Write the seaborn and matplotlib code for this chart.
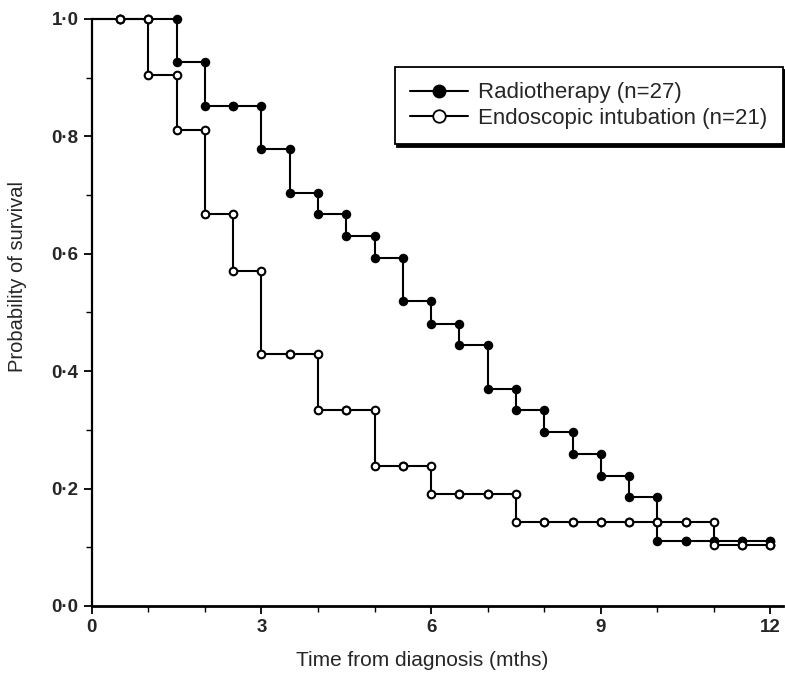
import numpy as np
import pandas as pd
import matplotlib
matplotlib.use("Agg")
import matplotlib.pyplot as plt
from matplotlib.lines import Line2D
from matplotlib.ticker import MultipleLocator, FuncFormatter
import seaborn as sns

# Tiempos (meses) cada medio mes
tiempos = [0.0, 0.5, 1.0, 1.5, 2.0, 2.5, 3.0, 3.5, 4.0, 4.5, 5.0, 5.5, 6.0,
           6.5, 7.0, 7.5, 8.0, 8.5, 9.0, 9.5, 10.0, 10.5, 11.0, 11.5, 12.0]

# Supervivencia (valor despues de cada tiempo)
radioterapia = [1.0, 1.0, 1.0, 0.926, 0.852, 0.852, 0.778, 0.704, 0.667, 0.630,
                0.593, 0.519, 0.481, 0.444, 0.370, 0.333, 0.296, 0.259, 0.222,
                0.185, 0.111, 0.111, 0.111, 0.111, 0.111]
endoscopia = [1.0, 1.0, 0.905, 0.810, 0.667, 0.571, 0.429, 0.429, 0.333, 0.333,
              0.238, 0.238, 0.190, 0.190, 0.190, 0.143, 0.143, 0.143, 0.143,
              0.143, 0.143, 0.143, 0.103, 0.103, 0.103]

etiquetas = ["Radiotherapy (n=27)", "Endoscopic intubation (n=21)"]
ticks_x = [0, 3, 6, 9, 12]
ticks_y = [0.0, 0.2, 0.4, 0.6, 0.8, 1.0]


def puntos_esquina(t, s):
    """Puntos en ambos extremos de cada salto (antes y despues)"""
    xs, ys = [], []
    for i in range(1, len(t)):
        xs += [t[i], t[i]]
        ys += [s[i - 1], s[i]]
    return pd.DataFrame({"t": xs, "s": ys})


sns.set_theme(style="white")
plt.rcParams["font.family"] = ["Liberation Sans", "DejaVu Sans"]

fig = plt.figure(figsize=(7.85, 6.74), dpi=100)
ax = fig.add_axes([0.117, 0.101, 0.881, 0.871])

df = pd.DataFrame({
    "t": tiempos * 2,
    "s": radioterapia + endoscopia,
    "grupo": [etiquetas[0]] * len(tiempos) + [etiquetas[1]] * len(tiempos),
})
sns.lineplot(data=df, x="t", y="s", hue="grupo", estimator=None,
             palette={etiquetas[0]: "black", etiquetas[1]: "black"},
             drawstyle="steps-post", linewidth=1.5, legend=False, ax=ax,
             clip_on=False)

pr = puntos_esquina(tiempos, radioterapia)
pe = puntos_esquina(tiempos, endoscopia)
sns.scatterplot(data=pr, x="t", y="s", color="black", edgecolor="black",
                s=34, linewidth=1.0, zorder=3, clip_on=False, ax=ax)
sns.scatterplot(data=pe, x="t", y="s", color="white", edgecolor="black",
                s=30, linewidth=1.5, zorder=4, clip_on=False, ax=ax)

ax.set_xlim(0, 12.23)
ax.set_ylim(0, 1.0)
sns.despine(ax=ax)
for lado in ["left", "bottom"]:
    ax.spines[lado].set_color("black")
ax.spines["left"].set_linewidth(1.6)
ax.spines["bottom"].set_linewidth(2.0)

ax.set_xticks(ticks_x)
ax.set_yticks(ticks_y)
ax.xaxis.set_minor_locator(MultipleLocator(1))
ax.yaxis.set_minor_locator(MultipleLocator(0.1))
ax.yaxis.set_major_formatter(FuncFormatter(lambda v, p: f"{v:.1f}".replace(".", "\u00b7")))
ax.tick_params(axis="both", which="major", direction="out", length=6, width=1.3,
               color="black", labelsize=13.5, bottom=True, left=True)
ax.tick_params(axis="both", which="minor", direction="out", length=4, width=1.0,
               color="black", bottom=True, left=True)
for lbl in ax.get_xticklabels() + ax.get_yticklabels():
    lbl.set_fontweight("bold")

ax.set_xlabel("Time from diagnosis (mths)", fontsize=15)
ax.set_ylabel("Probability of survival", fontsize=14.5)
ax.xaxis.set_label_coords(0.477, -0.076)
ax.yaxis.set_label_coords(-0.094, 0.562)

manejadores = [
    Line2D([], [], color="black", lw=1.5, marker="o", markersize=9,
           markerfacecolor="black", markeredgecolor="black"),
    Line2D([], [], color="black", lw=1.5, marker="o", markersize=9,
           markerfacecolor="white", markeredgecolor="black", markeredgewidth=1.3),
]
ley = fig.legend(manejadores, etiquetas, loc="upper right",
                 bbox_to_anchor=(0.997, 0.901), fontsize=16, frameon=True,
                 fancybox=False, shadow={"color": "black", "alpha": 1.0},
                 handlelength=2.6, handletextpad=0.45, labelspacing=0.2,
                 borderpad=0.7, borderaxespad=0)
ley.get_frame().set_edgecolor("black")
ley.get_frame().set_linewidth(1.3)

fig.savefig("out.png", dpi=100)
